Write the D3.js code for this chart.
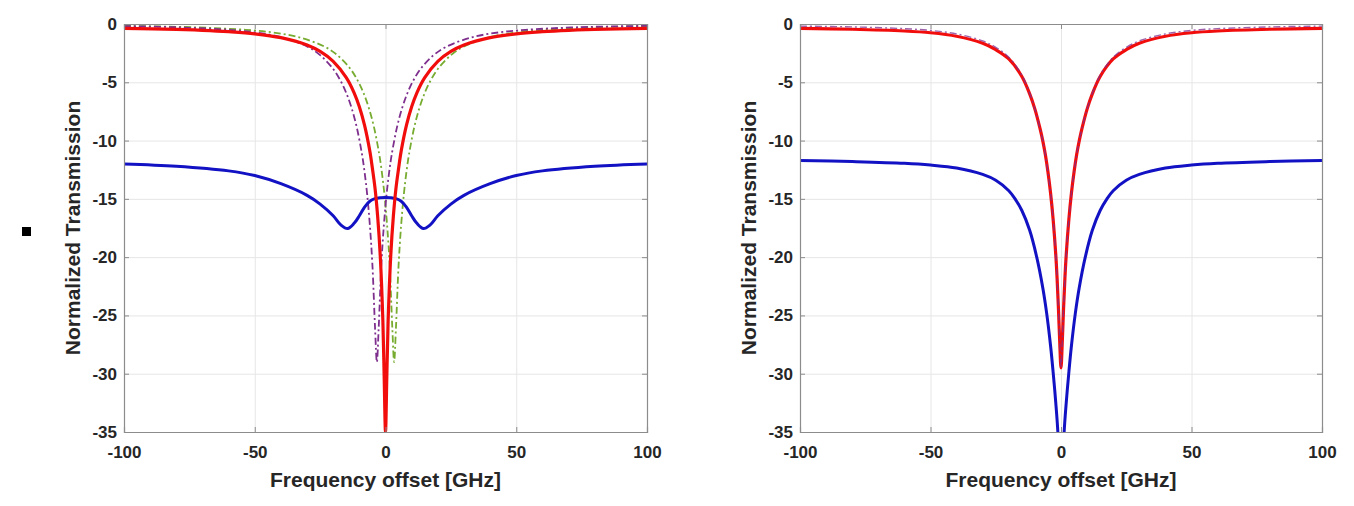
<!DOCTYPE html>
<html><head><meta charset="utf-8">
<script src="https://cdn.jsdelivr.net/npm/d3@7"></script>
<style>
html,body{margin:0;padding:0;background:#fff;}
svg{display:block;font-family:"Liberation Sans",Arial,Helvetica,sans-serif;}
</style></head>
<body>
<svg id="chart" width="1354" height="506"></svg>
<script>
// ---------- data ----------
const xTicks = [-100, -50, 0, 50, 100];
const yTicks = [0, -5, -10, -15, -20, -25, -30, -35];
const xLabel = "Frequency offset [GHz]";
const yLabel = "Normalized Transmission";

// Left panel
const leftRedX = [-100,-80,-70,-60,-50,-40,-30,-25,-20,-15,-12,-10,-8,-6,-5,-4,-3,-2,-1,-0.5,0,0.5,1,2,3,4,5,6,8,10,12,15,20,25,30,40,50,60,70,80,100];
const leftRedY = [-0.37,-0.46,-0.54,-0.66,-0.84,-1.17,-1.8,-2.35,-3.2,-4.6,-5.9,-7.1,-8.7,-10.9,-12.4,-14.1,-16.5,-19.9,-25.5,-30.3,-35,-30.3,-25.5,-19.9,-16.5,-14.1,-12.4,-10.9,-8.7,-7.1,-5.9,-4.6,-3.2,-2.35,-1.8,-1.17,-0.84,-0.66,-0.54,-0.46,-0.37];

const leftPurpleX = [-100,-80,-60,-50,-40,-30,-25,-20,-17,-15,-13,-11,-9,-8,-7,-6,-5,-4,-3.3,-2.6,-1.6,-0.6,0.4,1.4,2.4,4.4,6.4,8.4,10.4,13.4,18.4,23.4,33.4,43.4,53.4,73.4,100];
const leftPurpleY = [-0.18,-0.28,-0.5,-0.72,-1.12,-1.93,-2.67,-3.86,-4.95,-5.92,-7.18,-8.85,-11.17,-12.7,-14.65,-17.2,-20.7,-26.05,-29,-26.05,-20.7,-17.2,-14.65,-12.7,-11.17,-8.85,-7.18,-5.92,-4.95,-3.86,-2.67,-1.93,-1.12,-0.72,-0.5,-0.28,-0.16];

const leftGreenX = [-100,-73.4,-53.4,-43.4,-33.4,-23.4,-18.4,-13.4,-10.4,-8.4,-6.4,-4.4,-2.4,-1.4,-0.4,0.6,1.6,2.6,3.3,4,5,6,7,8,9,11,13,15,17,20,25,30,40,50,60,80,100];
const leftGreenY = [-0.16,-0.28,-0.5,-0.72,-1.12,-1.93,-2.67,-3.86,-4.95,-5.92,-7.18,-8.85,-11.17,-12.7,-14.65,-17.2,-20.7,-26.05,-29,-26.05,-20.7,-17.2,-14.65,-12.7,-11.17,-8.85,-7.18,-5.92,-4.95,-3.86,-2.67,-1.93,-1.12,-0.72,-0.5,-0.28,-0.18];

const leftBlueX = [-100,-80,-60,-50,-40,-30,-25,-20,-17,-14.5,-12,-10,-8,-6,-4,-2,0,2,4,6,8,10,12,14.5,17,20,25,30,40,50,60,80,100];
const leftBlueY = [-12.0,-12.2,-12.6,-13.0,-13.7,-14.7,-15.45,-16.45,-17.25,-17.55,-17.1,-16.45,-15.7,-15.2,-14.98,-14.9,-14.88,-14.9,-14.98,-15.2,-15.7,-16.45,-17.1,-17.55,-17.25,-16.45,-15.45,-14.7,-13.7,-13.0,-12.6,-12.2,-12.0];

// Right panel
const rightRedX = [-100,-80,-60,-50,-40,-30,-25,-20,-15,-12,-10,-8,-7,-6,-5,-4,-3,-2,-1.5,-1,-0.5,0,0.5,1,1.5,2,3,4,5,6,7,8,10,12,15,20,25,30,40,50,60,80,100];
const rightRedY = [-0.38,-0.45,-0.6,-0.75,-1.05,-1.65,-2.2,-3.0,-4.5,-6.0,-7.3,-9.0,-10.0,-11.2,-12.7,-14.5,-16.8,-19.8,-21.8,-24.3,-27.2,-29.5,-27.2,-24.3,-21.8,-19.8,-16.8,-14.5,-12.7,-11.2,-10.0,-9.0,-7.3,-6.0,-4.5,-3.0,-2.2,-1.65,-1.05,-0.75,-0.6,-0.45,-0.38];

const rightPurpleX = rightRedX.slice();
const rightPurpleY = [-0.18,-0.25,-0.4,-0.55,-0.85,-1.45,-2.0,-2.85,-4.4,-5.95,-7.3,-9.0,-10.0,-11.2,-12.7,-14.5,-16.8,-19.8,-21.8,-24.3,-27.2,-29.5,-27.2,-24.3,-21.8,-19.8,-16.8,-14.5,-12.7,-11.2,-10.0,-9.0,-7.3,-5.95,-4.4,-2.85,-2.0,-1.45,-0.85,-0.55,-0.4,-0.25,-0.18];

const rightBlueX = [-100,-80,-60,-50,-40,-30,-25,-20,-17.6,-15,-12,-9.3,-7,-5.5,-4,-3,-2,-1.2,-0.5,0,0.5,1.2,2,3,4,5.5,7,9.3,12,15,17.6,20,25,30,40,50,60,80,100];
const rightBlueY = [-11.7,-11.8,-11.95,-12.1,-12.35,-12.9,-13.4,-14.3,-15.0,-16.0,-17.7,-20.0,-22.6,-24.8,-27.6,-29.9,-32.5,-35.0,-39.0,-42.0,-39.0,-35.0,-32.5,-29.9,-27.6,-24.8,-22.6,-20.0,-17.7,-16.0,-15.0,-14.3,-13.4,-12.9,-12.35,-12.1,-11.95,-11.8,-11.7];

// ---------- drawing ----------
const svg = d3.select("#chart");
const C = {red:"#f20d0d", blue:"#1212c4", purple:"#7e2f8e", green:"#77ac30",
           axis:"#8c8c8c", grid:"#e6e6e6", text:"#262626"};

function pairs(xs, ys){ return xs.map((x,i)=>[x, ys[i]]); }

const panels = [
  {left:124, right:647, series:[
    {x:leftGreenX, y:leftGreenY, color:C.green, w:1.8, dash:"7,3,2,3"},
    {x:leftPurpleX, y:leftPurpleY, color:C.purple, w:1.8, dash:"7,3,2,3"},
    {x:leftBlueX, y:leftBlueY, color:C.blue, w:3},
    {x:leftRedX, y:leftRedY, color:C.red, w:3.2}
  ]},
  {left:800, right:1322, series:[
    {x:rightBlueX, y:rightBlueY, color:C.blue, w:3},
    {x:rightRedX, y:rightRedY, color:C.red, w:3.2},
    {x:rightPurpleX, y:rightPurpleY, color:C.purple, w:1.4, dash:"7,3,2,3", op:0.75}
  ]}
];
const plotTop = 24, plotBottom = 432;

// small black square marker at far left
svg.append("rect").attr("x",22).attr("y",227).attr("width",9).attr("height",9).attr("fill","#000");

panels.forEach((p, pi) => {
  const x = d3.scaleLinear().domain([-100,100]).range([p.left, p.right]);
  const y = d3.scaleLinear().domain([-35,0]).range([plotBottom, plotTop]);
  const W = p.right - p.left, H = plotBottom - plotTop;
  const g = svg.append("g");

  // grid
  g.append("g").attr("transform",`translate(0,${plotBottom})`)
    .call(d3.axisBottom(x).tickValues(xTicks).tickSize(-H).tickFormat(""))
    .call(s=>{s.select(".domain").remove(); s.selectAll("line").attr("stroke",C.grid);});
  g.append("g").attr("transform",`translate(${p.left},0)`)
    .call(d3.axisLeft(y).tickValues(yTicks).tickSize(-W).tickFormat(""))
    .call(s=>{s.select(".domain").remove(); s.selectAll("line").attr("stroke",C.grid);});

  // clip
  const cid = "clip"+pi;
  svg.append("clipPath").attr("id",cid).append("rect")
    .attr("x",p.left).attr("y",plotTop).attr("width",W).attr("height",H);

  const line = d3.line().x(d=>x(d[0])).y(d=>y(d[1])).curve(d3.curveCatmullRom.alpha(0.5));
  const lg = g.append("g").attr("clip-path",`url(#${cid})`);
  p.series.forEach(s=>{
    lg.append("path").datum(pairs(s.x, s.y))
      .attr("d", line).attr("fill","none")
      .attr("stroke", s.color).attr("stroke-width", s.w)
      .attr("stroke-linejoin","round").attr("stroke-linecap", s.dash ? "butt" : "round")
      .attr("stroke-dasharray", s.dash || null)
      .attr("opacity", s.op || 1);
  });

  // axes (ticks inside)
  const fmt = d => d3.format("d")(d).replace("−","-");
  const ax = g.append("g").attr("transform",`translate(0,${plotBottom})`)
    .call(d3.axisBottom(x).tickValues(xTicks).tickSize(-5).tickPadding(14).tickFormat(fmt));
  const ay = g.append("g").attr("transform",`translate(${p.left},0)`)
    .call(d3.axisLeft(y).tickValues(yTicks).tickSize(-5).tickPadding(7).tickFormat(fmt));
  const axT = g.append("g").attr("transform",`translate(0,${plotTop})`)
    .call(d3.axisTop(x).tickValues(xTicks).tickSize(-5).tickFormat(""));
  const ayR = g.append("g").attr("transform",`translate(${p.right},0)`)
    .call(d3.axisRight(y).tickValues(yTicks).tickSize(-5).tickFormat(""));
  [ax, ay, axT, ayR].forEach(a=>{
    a.select(".domain").attr("stroke",C.axis).attr("stroke-width",1.2);
    a.selectAll(".tick line").attr("stroke",C.axis);
    a.selectAll("text").attr("fill",C.text).attr("font-size",17).attr("font-weight","bold")
      .attr("font-family",'"Liberation Sans",Arial,sans-serif');
  });

  // labels
  g.append("text").attr("x",(p.left+p.right)/2).attr("y",487)
    .attr("text-anchor","middle").attr("font-size",21).attr("font-weight","bold")
    .attr("fill",C.text).text(xLabel);
  g.append("text").attr("transform",`translate(${p.left-44},${(plotTop+plotBottom)/2}) rotate(-90)`)
    .attr("text-anchor","middle").attr("font-size",21).attr("font-weight","bold")
    .attr("fill",C.text).text(yLabel);
});
</script>
</body></html>
